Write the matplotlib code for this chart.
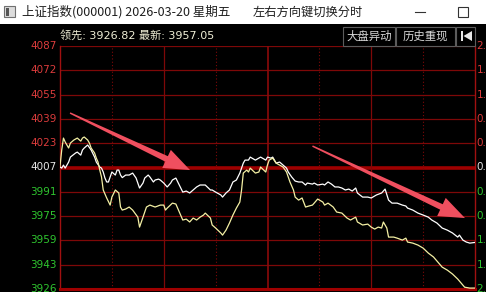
import numpy as np
import matplotlib
matplotlib.use('Agg')
import matplotlib.pyplot as plt
from matplotlib.patches import Rectangle, Polygon
from matplotlib.lines import Line2D
from matplotlib.transforms import IdentityTransform, blended_transform_factory

# ---------------- data ----------------
white_min = [0, 1, 2, 3, 5, 6, 9, 10, 12, 13, 14, 16, 18, 20, 21, 23, 24, 25, 26, 27, 28, 29, 30, 32, 33, 34, 35, 36,
             38, 40, 42, 44, 46, 48, 49, 51, 52, 54, 55, 57, 58, 60, 62, 64, 65, 67, 69, 71, 73, 75, 77, 79, 81, 83,
             84, 87, 88, 90, 93, 94, 96, 98, 100, 102, 104, 106, 107, 109, 110, 113, 115, 116, 119, 120, 122, 123,
             125, 127, 129, 131, 132, 134, 136, 138, 140, 142, 143, 146, 147, 149, 152, 153, 155, 157, 159, 161,
             163, 165, 167, 169, 171, 172, 175, 176, 178, 180, 183, 186, 188, 190, 192, 195, 198, 200, 201, 204,
             207, 210, 213, 215, 218, 221, 224, 227, 230, 231, 233, 235, 237, 240]
white_val = [4007.0, 4006.3, 4008.3, 4006.3, 4010.3, 4013.6, 4016.3, 4016.9, 4014.9, 4018.3, 4019.6, 4021.6, 4018.3,
             4013.6, 4010.3, 4007.0, 4006.3, 4003.7, 3999.7, 3997.1, 3997.1, 4000.4, 4003.7, 4001.7, 4005.0, 4005.0,
             4001.7, 4000.0, 4001.7, 4001.7, 4003.0, 3999.7, 3993.1, 3996.4, 3999.7, 4001.7, 4000.4, 3997.1, 3998.4,
             3999.0, 3998.4, 3996.4, 3993.8, 3996.4, 3998.4, 3999.7, 3995.1, 3990.4, 3991.1, 3989.8, 3991.8, 3993.8,
             3995.1, 3995.1, 3995.1, 3991.8, 3991.8, 3990.4, 3988.5, 3987.1, 3989.8, 3991.8, 3997.1, 3998.4, 4003.0,
             4009.6, 4011.6, 4011.6, 4013.6, 4011.6, 4012.9, 4013.6, 4011.6, 4013.6, 4012.9, 4013.6, 4009.6, 4010.3,
             4008.3, 4006.3, 4003.7, 4000.4, 3997.7, 3997.1, 3997.1, 3995.1, 3996.4, 3995.7, 3996.4, 3995.1, 3995.7,
             3995.1, 3997.1, 3995.7, 3993.8, 3993.8, 3993.1, 3991.8, 3992.4, 3991.1, 3993.1, 3989.8, 3987.1, 3987.1,
             3987.1, 3986.5, 3988.5, 3989.8, 3992.4, 3985.1, 3983.1, 3983.1, 3981.8, 3981.2, 3979.8, 3978.5, 3976.5,
             3975.2, 3973.8, 3971.9, 3969.9, 3966.6, 3965.2, 3963.3, 3960.6, 3961.9, 3958.6, 3957.3, 3956.6, 3957.05]

yellow_min = [0, 1, 2, 3, 5, 6, 8, 10, 12, 13, 14, 16, 17, 18, 20, 21, 22, 23, 24, 25, 27, 29, 30, 32, 34, 35, 36, 38,
              40, 42, 45, 46, 48, 50, 52, 55, 58, 60, 61, 62, 65, 67, 69, 71, 73, 75, 77, 79, 81, 83, 84, 87, 88, 90,
              93, 94, 96, 98, 100, 102, 104, 105, 106, 108, 109, 110, 113, 115, 116, 119, 120, 121, 123, 125, 129,
              131, 133, 135, 136, 138, 140, 142, 144, 146, 147, 149, 152, 153, 155, 158, 160, 163, 166, 168, 171,
              172, 175, 178, 180, 182, 184, 186, 187, 189, 190, 193, 195, 198, 200, 201, 204, 207, 210, 213, 216,
              219, 221, 224, 227, 230, 232, 234, 237, 240]
yellow_val = [4007.5, 4018.3, 4026.2, 4023.6, 4019.6, 4022.9, 4024.9, 4026.2, 4024.2, 4026.2, 4026.9, 4024.9, 4022.9,
              4019.6, 4016.3, 4012.9, 4010.3, 4005.0, 4000.4, 3991.8, 3986.5, 3981.8, 3987.1, 3991.8, 3989.8, 3980.5,
              3978.5, 3979.2, 3980.5, 3978.5, 3973.8, 3967.2, 3973.8, 3980.5, 3981.8, 3980.5, 3981.8, 3981.8, 3978.5,
              3979.8, 3983.1, 3982.5, 3977.2, 3971.9, 3972.5, 3970.6, 3973.2, 3971.9, 3973.8, 3975.2, 3976.5, 3973.2,
              3968.6, 3966.6, 3963.3, 3961.9, 3965.2, 3969.9, 3975.2, 3979.8, 3983.8, 3991.8, 4003.0, 4005.0, 4003.7,
              4006.3, 4003.0, 4003.7, 4007.0, 4003.7, 4008.5, 4011.6, 4012.9, 4009.6, 4007.0, 4003.7, 3997.1, 3991.8,
              3987.1, 3985.1, 3986.5, 3980.5, 3981.2, 3981.8, 3983.1, 3985.8, 3983.8, 3981.8, 3983.1, 3980.5, 3977.2,
              3976.5, 3973.2, 3971.9, 3973.8, 3970.6, 3968.6, 3969.2, 3967.2, 3965.9, 3967.2, 3966.6, 3970.6, 3966.6,
              3960.6, 3960.6, 3959.9, 3958.6, 3959.9, 3957.3, 3956.6, 3955.3, 3953.3, 3950.0, 3947.4, 3943.4, 3940.7,
              3938.7, 3936.1, 3932.8, 3930.1, 3927.4, 3926.8, 3926.82]

ytick_labels = ['4087', '4072', '4055', '4039', '4023', '4007', '3991', '3975', '3959', '3943', '3926']
pct_labels = ['2.00%', '1.60%', '1.20%', '0.80%', '0.40%', '0.00%', '0.40%', '0.80%', '1.20%', '1.60%', '2.00%']
y_low, y_high = 3926.2, 4087.2

title_text = '上证指数(000001) 2026-03-20 星期五'
hint_text = '左右方向键切换分时'
info_text = '领先: 3926.82 最新: 3957.05'
buttons = ['大盘异动', '历史重现']

# arrows (annotation, in data units: minute, price)
arrows = [((5.8, 4042.8), (75.2, 4005.0)),
          ((146.0, 4020.9), (234.2, 3973.2))]

# ---------------- figure ----------------
W, H = 486, 292
fig = plt.figure(figsize=(W / 100, H / 100), dpi=100)
fig.patch.set_facecolor('black')

def fx(x):
    return x / W

def fy(y):
    return 1 - y / H

cjk = ['Noto Sans CJK SC', 'DejaVu Sans']
mixed = ['DejaVu Sans', 'Noto Sans CJK SC']

# title bar
fig.add_artist(Rectangle((0, fy(24)), 1, 24 / H, transform=fig.transFigure, facecolor='white', edgecolor='none'))
fig.add_artist(Rectangle((fx(4), fy(17)), 11 / W, 11 / H, transform=fig.transFigure,
                         facecolor='#dcdcdc', edgecolor='#707070', lw=0.8))
fig.add_artist(Rectangle((fx(5.5), fy(15.5)), 3 / W, 8 / H, transform=fig.transFigure,
                         facecolor='#555555', edgecolor='none'))
fig.text(fx(22), fy(12), title_text, family=cjk, fontsize=9.0, color='#1e1e1e', va='center', ha='left')
fig.text(fx(253), fy(12), hint_text, family=cjk, fontsize=8.8, color='#1e1e1e', va='center', ha='left')
fig.add_artist(Line2D([fx(415), fx(425)], [fy(12), fy(12)], transform=fig.transFigure, color='#333333', lw=0.8))
fig.add_artist(Rectangle((fx(458), fy(17)), 10 / W, 10 / H, transform=fig.transFigure,
                         facecolor='none', edgecolor='#333333', lw=0.8))

# info line
fig.text(fx(60), fy(35.5), info_text, family=mixed, fontsize=8.0, color='#efeed6', va='center', ha='left')

# buttons
bx = [(343, 395), (396, 455)]
for (x0, x1), lab in zip(bx, buttons):
    fig.add_artist(Rectangle((fx(x0), fy(46)), (x1 - x0) / W, 19 / H, transform=fig.transFigure,
                             facecolor='black', edgecolor='#5c5c5c', lw=0.8))
    fig.text(fx((x0 + x1) / 2), fy(36), lab, family=cjk, fontsize=8.2, color='#d8d8d8', va='center', ha='center')
fig.add_artist(Rectangle((fx(456), fy(46)), 19 / W, 19 / H, transform=fig.transFigure,
                         facecolor='black', edgecolor='#5c5c5c', lw=0.8))
fig.add_artist(Rectangle((fx(461), fy(41)), 2 / W, 10 / H, transform=fig.transFigure,
                         facecolor='#e8e8e8', edgecolor='none'))
fig.add_artist(Polygon([(fx(472), fy(31)), (fx(472), fy(41)), (fx(463.5), fy(36))], closed=True,
                       transform=fig.transFigure, facecolor='#e8e8e8', edgecolor='none'))

# ---------------- axes ----------------
ax = fig.add_axes([fx(60), fy(289), 415 / W, (289 - 46) / H])
ax.set_facecolor('black')
ax.set_xlim(0, 240)
ax.set_ylim(y_low, y_high)
ax.set_xticks([])
ax.set_yticks([])
ax.spines['top'].set_visible(False)
ax.spines['left'].set_color('#a01010')
ax.spines['right'].set_color('#a01010')
ax.spines['left'].set_linewidth(1.0)
ax.spines['right'].set_linewidth(1.0)
ax.spines['bottom'].set_color('#a00000')
ax.spines['bottom'].set_linewidth(2.2)

ticks = np.linspace(y_high, y_low, len(ytick_labels))
for i, t in enumerate(ticks):
    if i == 5:
        ax.axhline(t, color='#9e0000', lw=2.6, zorder=1)
    elif i < len(ticks) - 1:
        ax.axhline(t, color='#7e0808', lw=0.9, zorder=1)

for m in [60, 180]:
    ax.axvline(m, color='#7e0808', lw=0.9, zorder=1)
ax.axvline(120, color='#8c0a0a', lw=1.2, zorder=1)
for m in [30, 90, 150, 210]:
    ax.axvline(m, color='#7e0808', lw=0.8, ls=(0, (1, 2)), zorder=1)

ax.plot(white_min, white_val, color='#ffffff', lw=0.9, zorder=3)
ax.plot(yellow_min, yellow_val, color='#f4f0a4', lw=0.9, zorder=3)

tr = blended_transform_factory(ax.transAxes, ax.transData)
for i, (t, lab, pl) in enumerate(zip(ticks, ytick_labels, pct_labels)):
    if i < 5:
        c = '#dc3c3c'
    elif i == 5:
        c = '#e6e6e6'
    else:
        c = '#2fc62f'
    ax.text(-0.008, t, lab, transform=tr, ha='right', va='center', fontsize=7.5,
            family='DejaVu Sans', color=c, clip_on=False)
    ax.text(1.004, t, pl, transform=tr, ha='left', va='center', fontsize=7.5,
            family='DejaVu Sans', color=c, clip_on=False)

# arrows as tapered polygons in display space
def arrow_poly(tail, tip, w0=1.5, w1=6.0, wh=20.0, hl=26.0):
    T = np.array(ax.transData.transform(tail))
    P = np.array(ax.transData.transform(tip))
    u = (P - T) / np.linalg.norm(P - T)
    n = np.array([-u[1], u[0]])
    B = P - u * hl
    pts = [T + n * w0 / 2, B + n * w1 / 2, B + n * wh / 2, P, B - n * wh / 2, B - n * w1 / 2, T - n * w0 / 2]
    return pts

for tail, tip in arrows:
    poly = Polygon(arrow_poly(tail, tip), closed=True, transform=IdentityTransform(),
                   facecolor='#f04f5f', edgecolor='none', zorder=5)
    fig.add_artist(poly)

fig.savefig('out.png', dpi=100, facecolor='black')
